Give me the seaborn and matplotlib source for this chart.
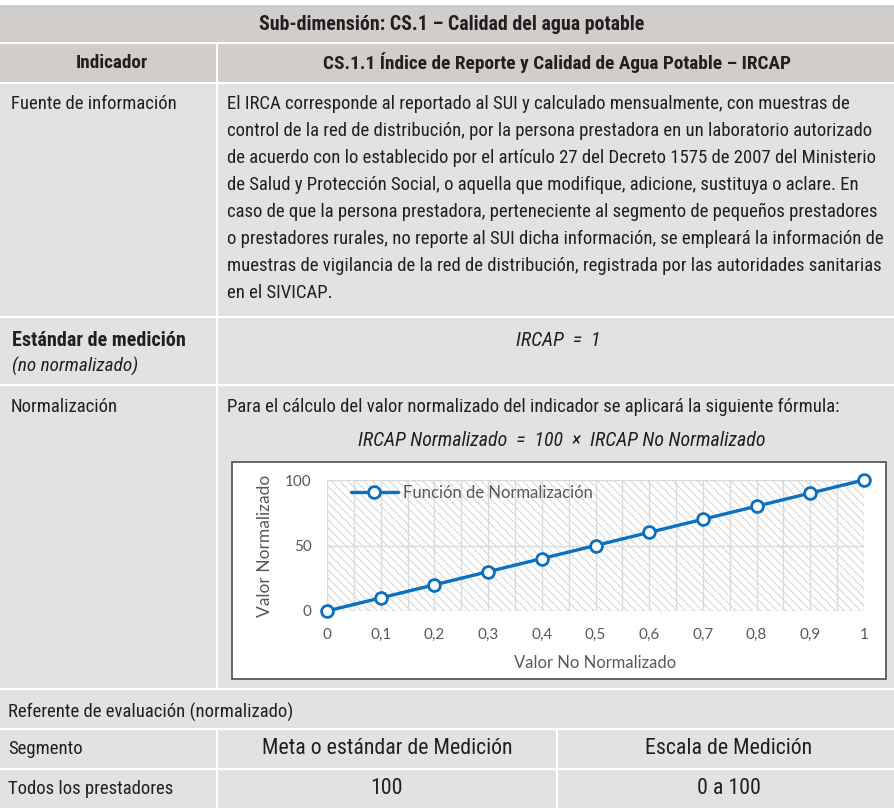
import matplotlib
matplotlib.use("Agg")
import matplotlib.pyplot as plt
import matplotlib.font_manager as fm
from matplotlib.font_manager import FontProperties
from matplotlib.patches import Rectangle
import seaborn as sns
import pandas as pd

# ---------------- data ----------------
x_values = [0.0, 0.1, 0.2, 0.3, 0.4, 0.5, 0.6, 0.7, 0.8, 0.9, 1.0]
y_values = [0, 10, 20, 30, 40, 50, 60, 70, 80, 90, 100]
x_tick_values = [0.0, 0.1, 0.2, 0.3, 0.4, 0.5, 0.6, 0.7, 0.8, 0.9, 1.0]
x_tick_labels = ["0", "0,1", "0,2", "0,3", "0,4", "0,5", "0,6", "0,7", "0,8", "0,9", "1"]
y_tick_values = [0, 50, 100]
y_tick_labels = ["0", "50", "100"]
series_name = "Función de Normalización"
x_title = "Valor No Normalizado"
y_title = "Valor Normalizado"

title_text = "Sub-dimensión: CS.1 – Calidad del agua potable"
indicator_label = "Indicador"
indicator_name = "CS.1.1 Índice de Reporte y Calidad de Agua Potable – IRCAP"
source_label = "Fuente de información"
source_lines = [
    "El IRCA corresponde al reportado al SUI y calculado mensualmente, con muestras de",
    "control de la red de distribución, por la persona prestadora en un laboratorio autorizado",
    "de acuerdo con lo establecido por el artículo 27 del Decreto 1575 de 2007 del Ministerio",
    "de Salud y Protección Social, o aquella que modifique, adicione, sustituya o aclare. En",
    "caso de que la persona prestadora, perteneciente al segmento de pequeños prestadores",
    "o prestadores rurales, no reporte al SUI dicha información, se empleará la información de",
    "muestras de vigilancia de la red de distribución, registrada por las autoridades sanitarias",
    "en el SIVICAP.",
]
standard_label = "Estándar de medición"
standard_sub = "(no normalizado)"
standard_value = "IRCAP  =  1"
norm_label = "Normalización"
norm_intro = "Para el cálculo del valor normalizado del indicador se aplicará la siguiente fórmula:"
norm_formula = "IRCAP Normalizado  =  100  ×  IRCAP No Normalizado"
ref_label = "Referente de evaluación (normalizado)"
seg_headers = ["Segmento", "Meta o estándar de Medición", "Escala de Medición"]
seg_row = ["Todos los prestadores", "100", "0 a 100"]

# ---------------- fonts ----------------
entries = fm.fontManager.ttflist
names = {f.name for f in entries}


def pick_narrow():
    for p in ["Liberation Sans Narrow", "Roboto Condensed", "Open Sans Condensed",
              "Noto Sans Condensed", "Arial Narrow", "DejaVu Sans Condensed"]:
        if p in names:
            return p, "normal"
    for fam in ["DejaVu Sans", "Noto Sans", "Roboto", "Open Sans", "Inter"]:
        for f in entries:
            if f.name == fam and str(f.stretch) in ("condensed", "semi-condensed", "extra-condensed"):
                return fam, str(f.stretch)
    for fam in ["Roboto", "Liberation Sans", "DejaVu Sans"]:
        if fam in names:
            return fam, "normal"
    return "DejaVu Sans", "normal"


NARROW, STRETCH = pick_narrow()
CHART_FONT = "Lato" if "Lato" in names else "DejaVu Sans"

sns.set_theme(style="white")
plt.rcParams["font.family"] = [NARROW, "DejaVu Sans"]
plt.rcParams["hatch.linewidth"] = 0.7

W, H = 895, 811
fig = plt.figure(figsize=(W / 100, H / 100), dpi=100)
fig.patch.set_facecolor("white")
renderer = fig.canvas.get_renderer()


def fp(size, weight="normal", style="normal"):
    return FontProperties(family=[NARROW, "DejaVu Sans"], size=size, weight=weight,
                          style=style, stretch=STRETCH)


def measure(s, size, weight="normal", style="normal"):
    t = fig.text(0, 0, s, fontproperties=fp(size, weight, style))
    w = t.get_window_extent(renderer).width
    t.remove()
    return w


def fit(s, target, weight="normal", style="normal", base=14.0):
    return base * target / measure(s, base, weight, style)


S_BODY = fit(source_lines[5], 662)
S_TITLE = fit(title_text, 387, weight="bold")
S_IND = fit(indicator_name, 468, weight="bold")
S_BIG = fit(seg_headers[1], 253)
S_BOLD = fit(standard_label, 174, weight="bold")
S_ITAL = fit(standard_sub, 127, style="italic")
S_FORM = fit(norm_formula, 410, style="italic")

ax0 = fig.add_axes([0, 0, 1, 1])
ax0.set_xlim(0, W)
ax0.set_ylim(H, 0)
ax0.axis("off")

HEAD = "#d0cdcb"
BODY = "#e2e2e2"
TXT = "#231f20"


def cell(x0, y0, x1, y1, color):
    ax0.add_patch(Rectangle((x0, y0), x1 - x0, y1 - y0, facecolor=color, edgecolor="none", zorder=0))


def txt(x, y, s, size=None, ha="left", weight="normal", style="normal", color=TXT):
    size = S_BODY if size is None else size
    ax0.text(x, y, s, ha=ha, va="center", color=color, fontproperties=fp(size, weight, style))


C1, C2, C3 = 216, 556, 895
# title
cell(0, 5, W, 42, HEAD)
txt(452, 24, title_text, size=S_TITLE, ha="center", weight="bold")
# indicator
cell(0, 44, C1, 82, HEAD)
cell(C1 + 2, 44, W, 82, HEAD)
txt(112, 63, indicator_label, size=S_IND, ha="center", weight="bold")
txt(557, 63, indicator_name, size=S_IND, ha="center", weight="bold")
# source
cell(0, 84, C1, 316, BODY)
cell(C1 + 2, 84, W, 316, BODY)
txt(11, 104, source_label)
for i, line in enumerate(source_lines):
    txt(227, 104 + 27 * i, line)
# standard
cell(0, 318, C1, 384, BODY)
cell(C1 + 2, 318, W, 384, BODY)
txt(12, 340, standard_label, size=S_BOLD, weight="bold")
txt(12, 366, standard_sub, size=S_ITAL, style="italic")
txt(558, 340, standard_value, size=S_FORM, ha="center", style="italic")
# normalization
cell(0, 386, C1, 688, BODY)
cell(C1 + 2, 386, W, 688, BODY)
txt(11, 407, norm_label)
txt(227, 407, norm_intro)
txt(562, 440, norm_formula, size=S_FORM, ha="center", style="italic")
# chart frame
ax0.add_patch(Rectangle((232, 462), 886 - 232, 679 - 462, facecolor="white",
                        edgecolor="#404040", lw=1.1, zorder=1))
# referente
cell(0, 690, W, 728, BODY)
txt(8, 712, ref_label)
# segment rows
for (y0, y1), row in zip([(730, 768), (770, 808)], [seg_headers, seg_row]):
    cell(0, y0, C1, y1, BODY)
    cell(C1 + 2, y0, C2, y1, BODY)
    cell(C2 + 2, y0, W, y1, BODY)
    yc = (y0 + y1) / 2
    txt(8, yc, row[0])
    txt((C1 + C2) / 2 + 1, yc, row[1], size=S_BIG, ha="center")
    txt((C2 + C3) / 2 + 3, yc, row[2], size=S_BIG, ha="center")

# ---------------- chart ----------------
L, R, T, B = 327, 864, 480, 611
ax = fig.add_axes([L / W, 1 - B / H, (R - L) / W, (B - T) / H])
ax.set_facecolor("white")
ax.add_patch(Rectangle((0, 0), 1, 1, transform=ax.transAxes, facecolor="white",
                       edgecolor="#d2d2d2", hatch="\\\\\\\\", lw=0, zorder=0.2))

df = pd.DataFrame({"x": x_values, "y": y_values})
BLUE = "#0a70c0"
sns.lineplot(data=df, x="x", y="y", ax=ax, color=BLUE, lw=2.4, marker="o",
             markersize=8.5, markerfacecolor="white", markeredgecolor=BLUE,
             markeredgewidth=2.0, label=series_name, clip_on=False, zorder=5)

ax.set_xlim(0, 1)
ax.set_ylim(0, 100)
ax.set_xticks(x_tick_values)
ax.set_xticklabels(x_tick_labels)
ax.set_xticks([v + 0.05 for v in x_tick_values[:-1]], minor=True)
ax.set_yticks(y_tick_values)
ax.set_yticklabels(y_tick_labels)
ax.set_axisbelow(True)
ax.grid(True, which="both", axis="x", color="#d9d9d9", lw=1.0)
ax.grid(True, which="major", axis="y", color="#d9d9d9", lw=1.0)
for s in ax.spines.values():
    s.set_visible(False)
ax.tick_params(axis="both", which="both", length=0, labelsize=11, labelcolor="#595959")
ax.tick_params(axis="x", pad=12)
ax.tick_params(axis="y", pad=11)
for lab in ax.get_xticklabels() + ax.get_yticklabels():
    lab.set_family([CHART_FONT, "DejaVu Sans"])

ax.set_xlabel(x_title, fontsize=12, color="#595959", family=[CHART_FONT, "DejaVu Sans"])
ax.set_ylabel(y_title, fontsize=12.5, color="#595959", family=[CHART_FONT, "DejaVu Sans"])
ax.xaxis.set_label_coords(0.5, (B - 655) / (B - T))
ax.yaxis.set_label_coords((273 - L) / (R - L), 0.5)

leg = ax.legend(loc="center left", bbox_to_anchor=((351 - L) / (R - L), (B - 493) / (B - T)),
                frameon=False, borderpad=0, borderaxespad=0, handlelength=2.8,
                handletextpad=0.3, prop={"family": [CHART_FONT, "DejaVu Sans"], "size": 12})
for t in leg.get_texts():
    t.set_color("#595959")

fig.savefig("out.png", dpi=100, facecolor="white")
